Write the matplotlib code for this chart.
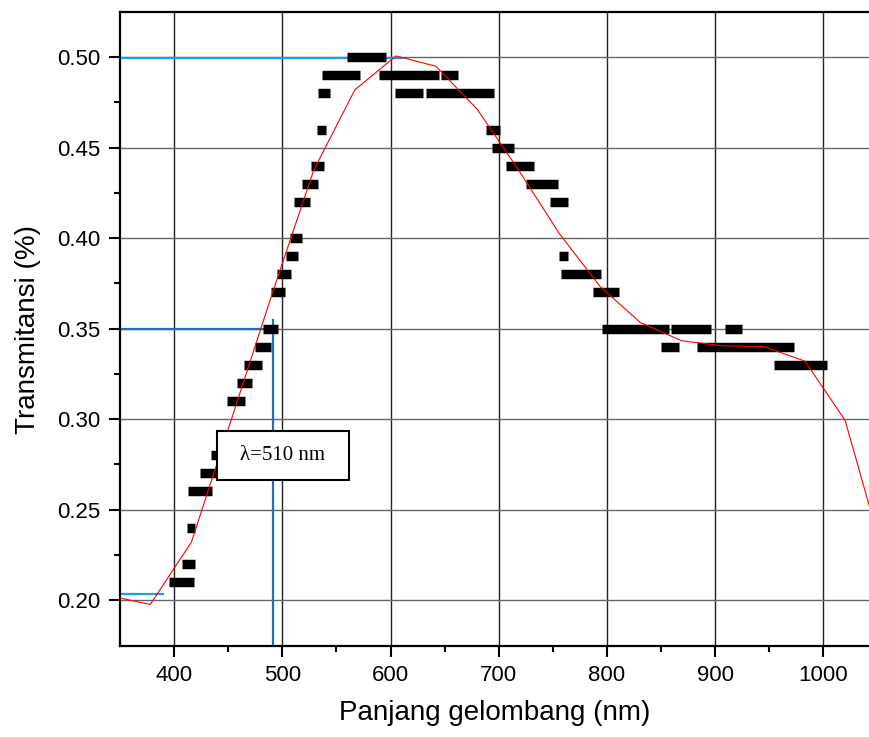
import numpy as np
import matplotlib.pyplot as plt
from matplotlib.patches import Rectangle

# ============================================================
# Data
# ============================================================

# measured points: drawn as horizontal runs (start nm, end nm, level)
run_start = [395.4, 407, 411.7, 413, 424, 434, 448.8, 457.7, 464.8, 474.4,
             482, 489.2, 495, 503.4, 507.4, 510.8, 518, 526.5, 532, 533,
             537, 559.3, 588.9, 647, 603.7, 633, 688, 694, 707, 725.3,
             747.5, 756, 757.4, 787, 795.4, 859.5, 909, 850, 883, 954]
run_end = [418.2, 419, 419.7, 435, 444, 448, 465.5, 472.2, 481.2, 489.5,
           496, 502.1, 508.3, 514.2, 518.2, 525.3, 533, 538.9, 540, 544,
           572, 595.4, 644.4, 662, 630.3, 695.4, 701, 714, 732.5, 754.4,
           763.5, 764, 794.4, 811.4, 857, 896.3, 924.4, 866.4, 972.5, 1003.4]
run_level = [0.21, 0.22, 0.24, 0.26, 0.27, 0.28, 0.31, 0.32, 0.33, 0.34,
             0.35, 0.37, 0.38, 0.39, 0.40, 0.42, 0.43, 0.44, 0.46, 0.48,
             0.49, 0.50, 0.49, 0.49, 0.48, 0.48, 0.46, 0.45, 0.44, 0.43,
             0.42, 0.39, 0.38, 0.37, 0.35, 0.35, 0.35, 0.34, 0.34, 0.33]

# red fit line
fit_x = [340, 378, 416, 453, 491, 529, 567, 605, 642, 680,
         718, 756, 794, 831, 869, 907, 945, 983, 1020, 1058]
fit_y = [0.2023, 0.1976, 0.232, 0.300, 0.370, 0.4376, 0.482, 0.5007, 0.495, 0.4713,
         0.4379, 0.4025, 0.373, 0.3533, 0.3433, 0.3405, 0.3401, 0.332, 0.2993, 0.219]

# guide lines
peak_T, peak_end = 0.4995, 611
half_T, half_end = 0.35, 487
lam_x, lam_top = 491, 0.3545
low_T, low_end = 0.2035, 390

x_ticks = [400, 500, 600, 700, 800, 900, 1000]
y_ticks = [0.20, 0.25, 0.30, 0.35, 0.40, 0.45, 0.50]

# ============================================================
# Plot
# ============================================================
plt.rcParams["font.family"] = ["Liberation Sans", "DejaVu Sans"]

fig = plt.figure(figsize=(8.69, 7.37), dpi=100)
ax = fig.add_axes([120 / 869, 91 / 737, 750 / 869, 634 / 737])

# grid
for xv in x_ticks:
    ax.axvline(xv, color="#222222", lw=1.0, zorder=1)
for yv in y_ticks:
    ax.axhline(yv, color="#666666", lw=1.0, zorder=1)

# guide lines
ax.plot([350, peak_end], [peak_T, peak_T], color="#1ba1e2", lw=1.6, zorder=2)
ax.plot([350, low_end], [low_T, low_T], color="#1ba1e2", lw=1.6, zorder=2)
ax.plot([350, half_end], [half_T, half_T], color="#1f6fbf", lw=1.6, zorder=2)
ax.plot([lam_x, lam_x], [0.17, lam_top], color="#1f6fbf", lw=1.6, zorder=2)

# measured data
for x0, x1, lev in zip(run_start, run_end, run_level):
    ax.plot([x0, x1], [lev, lev], color="black", lw=6.8,
            solid_capstyle="butt", zorder=3)

# fit
ax.plot(fit_x, fit_y, color="red", lw=0.8, zorder=4)

# annotation box
ax.add_patch(Rectangle((439.5, 0.2662), 122.3, 0.0274, facecolor="white",
                       edgecolor="black", lw=1.5, zorder=5))
ax.text(500.6, 0.2799, "\u03bb=510 nm", ha="center", va="center",
        fontsize=15, family="Liberation Serif", zorder=6)

# axes styling
ax.spines["right"].set_visible(False)
for s in ["left", "bottom", "top"]:
    ax.spines[s].set_linewidth(1.6)

ax.set_xticks(x_ticks)
ax.set_xticks([450, 550, 650, 750, 850, 950], minor=True)
ax.set_yticks(y_ticks)
ax.set_yticks([0.225, 0.275, 0.325, 0.375, 0.425, 0.475], minor=True)
ax.set_yticklabels([f"{v:.2f}" for v in y_ticks])
ax.tick_params(which="major", length=8, width=1.5, labelsize=16, pad=6)
ax.tick_params(which="minor", length=4.5, width=1.5)

ax.set_xlim(350, 1043)
ax.set_ylim(0.1746, 0.525)

ax.set_xlabel("Panjang gelombang (nm)", fontsize=20, labelpad=10)
ax.set_ylabel("Transmitansi (%)", fontsize=20, labelpad=12)

plt.savefig("out.png", dpi=100)
